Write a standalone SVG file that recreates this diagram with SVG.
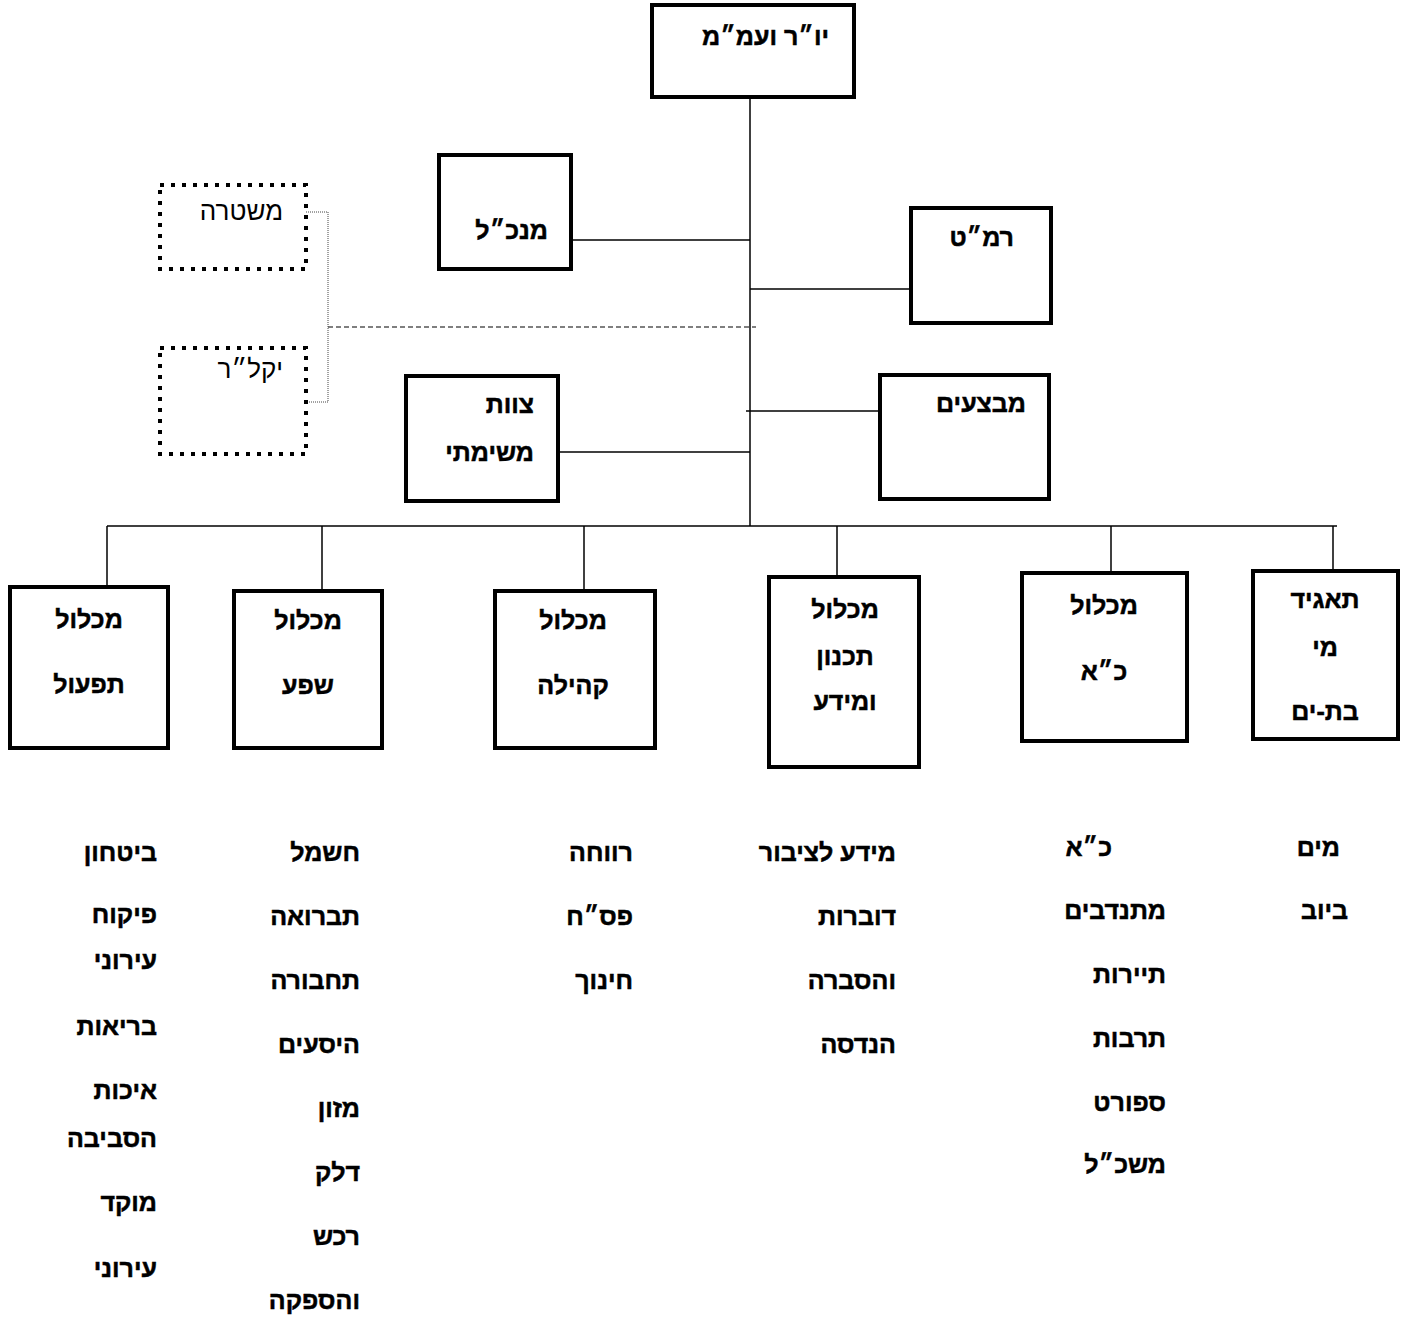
<svg xmlns="http://www.w3.org/2000/svg" width="1402" height="1319" viewBox="0 0 1402 1319">
<style>
.box{fill:#fff;stroke:#000;stroke-width:4}
.dbox{fill:#fff;stroke:#000;stroke-width:4;stroke-dasharray:4 7}
.ln{stroke:#000;stroke-width:1.5;fill:none}
.dash{stroke:#000;stroke-width:1.2;stroke-dasharray:5 3;fill:none}
.dot{stroke:#444;stroke-width:1;stroke-dasharray:1 1;fill:none}
text{font-family:"Liberation Sans","DejaVu Sans",Arial,sans-serif;font-size:25px;font-weight:bold;fill:#000;stroke:#000;stroke-width:0.5}
.n{font-weight:normal;font-size:26px;stroke:none}
.c{text-anchor:middle}
.r{text-anchor:end}
</style>
<rect width="1402" height="1319" fill="#fff"/>
<g id="connectors">
<line class="ln" x1="750" y1="97" x2="750" y2="526"/>
<line class="ln" x1="571" y1="240" x2="750" y2="240"/>
<line class="ln" x1="750" y1="289" x2="911" y2="289"/>
<line class="ln" x1="558" y1="452" x2="750" y2="452"/>
<line class="ln" x1="746" y1="411" x2="880" y2="411"/>
<line class="dash" x1="328" y1="327" x2="756" y2="327"/>
<polyline class="dot" points="306,212 328,212 328,402 306,402"/>
<line class="ln" x1="107" y1="526" x2="1337" y2="526"/>
<line class="ln" x1="107" y1="526" x2="107" y2="587"/>
<line class="ln" x1="322" y1="526" x2="322" y2="591"/>
<line class="ln" x1="584" y1="526" x2="584" y2="591"/>
<line class="ln" x1="837" y1="526" x2="837" y2="577"/>
<line class="ln" x1="1111" y1="526" x2="1111" y2="573"/>
<line class="ln" x1="1333" y1="526" x2="1333" y2="571"/>
</g>
<g id="n-chair"><rect class="box" x="652" y="5" width="202" height="92"/><text class="r" x="829" y="45">יו״ר ועמ״מ</text></g>
<g id="n-mankal"><rect class="box" x="439" y="155" width="132" height="114"/><text class="r" x="548" y="239">מנכ״ל</text></g>
<g id="n-ramat"><rect class="box" x="911" y="208" width="140" height="115"/><text class="r" x="1014" y="246">רמ״ט</text></g>
<g id="n-police"><rect class="dbox" x="160" y="185" width="146" height="84"/><text class="r n" x="283" y="220">משטרה</text></g>
<g id="n-yaklar"><rect class="dbox" x="160" y="348" width="146" height="106"/><text class="r n" x="283" y="378">יקל״ר</text></g>
<g id="n-team"><rect class="box" x="406" y="376" width="152" height="125"/><text class="r" x="534" y="413">צוות</text><text class="r" x="534" y="461">משימתי</text></g>
<g id="n-ops"><rect class="box" x="880" y="375" width="169" height="124"/><text class="r" x="1026" y="412">מבצעים</text></g>
<g id="n-tifool"><rect class="box" x="10" y="587" width="158" height="161"/><text class="c" x="89" y="628">מכלול</text><text class="c" x="89" y="693">תפעול</text></g>
<g id="n-shefa"><rect class="box" x="234" y="591" width="148" height="157"/><text class="c" x="308" y="629">מכלול</text><text class="c" x="308" y="694">שפע</text></g>
<g id="n-kehila"><rect class="box" x="495" y="591" width="160" height="157"/><text class="c" x="573" y="629">מכלול</text><text class="c" x="573" y="694">קהילה</text></g>
<g id="n-tichnun"><rect class="box" x="769" y="577" width="150" height="190"/><text class="c" x="845" y="618">מכלול</text><text class="c" x="845" y="665">תכנון</text><text class="c" x="845" y="710">ומידע</text></g>
<g id="n-koach"><rect class="box" x="1022" y="573" width="165" height="168"/><text class="c" x="1104" y="614">מכלול</text><text class="c" x="1104" y="680">כ״א</text></g>
<g id="n-water"><rect class="box" x="1253" y="571" width="145" height="168"/><text class="c" x="1325" y="608">תאגיד</text><text class="c" x="1325" y="656">מי</text><text class="c" x="1325" y="720">בת-ים</text></g>
<g id="list-tifool">
<text class="r" x="157" y="861">ביטחון</text>
<text class="r" x="157" y="923">פיקוח</text>
<text class="r" x="157" y="969">עירוני</text>
<text class="r" x="157" y="1035">בריאות</text>
<text class="r" x="157" y="1099">איכות</text>
<text class="r" x="157" y="1147">הסביבה</text>
<text class="r" x="157" y="1211">מוקד</text>
<text class="r" x="157" y="1277">עירוני</text>
</g>
<g id="list-shefa">
<text class="r" x="360" y="861">חשמל</text>
<text class="r" x="360" y="925">תברואה</text>
<text class="r" x="360" y="989">תחבורה</text>
<text class="r" x="360" y="1053">היסעים</text>
<text class="r" x="360" y="1117">מזון</text>
<text class="r" x="360" y="1181">דלק</text>
<text class="r" x="360" y="1245">רכש</text>
<text class="r" x="360" y="1309">והספקה</text>
</g>
<g id="list-kehila">
<text class="r" x="633" y="861">רווחה</text>
<text class="r" x="633" y="925">פס״ח</text>
<text class="r" x="633" y="989">חינוך</text>
</g>
<g id="list-tichnun">
<text class="r" x="896" y="861">מידע לציבור</text>
<text class="r" x="896" y="925">דוברות</text>
<text class="r" x="896" y="989">והסברה</text>
<text class="r" x="896" y="1053">הנדסה</text>
</g>
<g id="list-koach">
<text class="r" x="1112" y="856">כ״א</text>
<text class="r" x="1166" y="919">מתנדבים</text>
<text class="r" x="1166" y="983">תיירות</text>
<text class="r" x="1166" y="1047">תרבות</text>
<text class="r" x="1166" y="1111">ספורט</text>
<text class="r" x="1166" y="1173">משכ״ל</text>
</g>
<g id="list-water">
<text class="r" x="1340" y="856">מים</text>
<text class="r" x="1348" y="919">ביוב</text>
</g>
</svg>
